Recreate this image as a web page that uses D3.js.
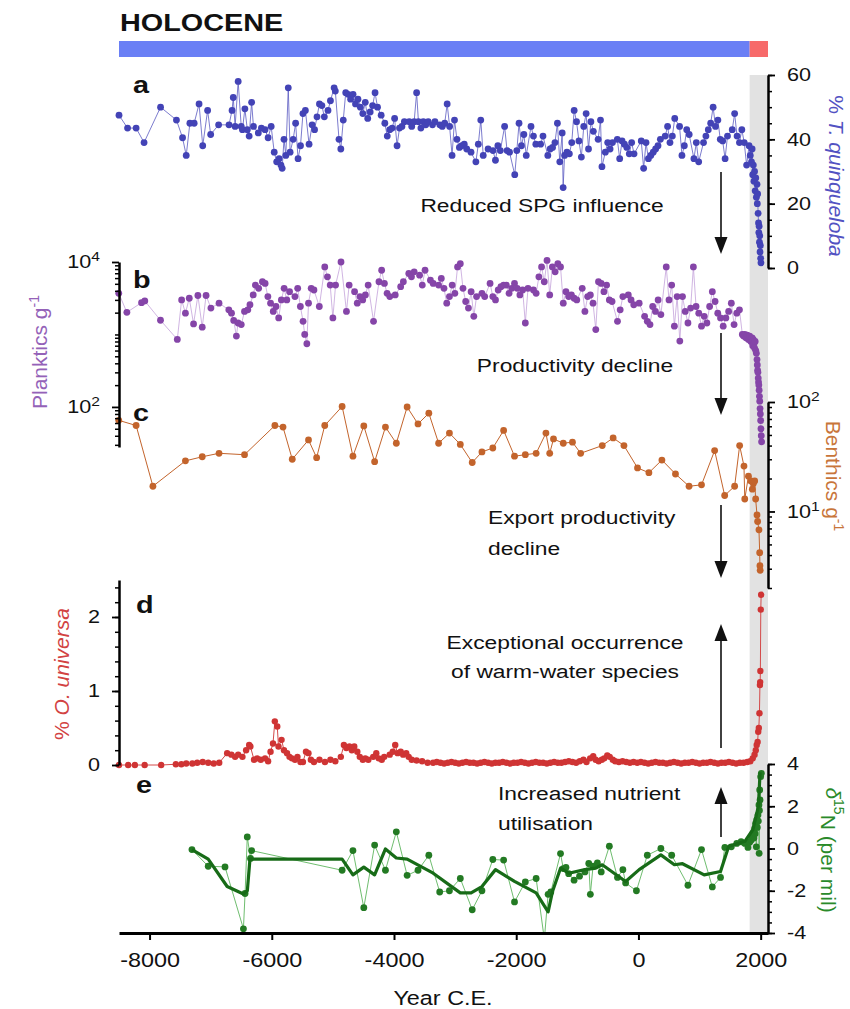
<!DOCTYPE html>
<html>
<head>
<meta charset="utf-8">
<script src="https://cdn.jsdelivr.net/npm/d3@7"></script>
<style>
  body { margin: 0; background: #fff; }
  svg text { font-family: "Liberation Sans", Arial, Helvetica, sans-serif; }
</style>
</head>
<body>
<div id="chart"></div>
<script>
"use strict";

// ---- data (year C.E., value) ----
const xTicks = [-8000, -6000, -4000, -2000, 0, 2000];

const tQuinqueloba = [[-8500,47.5],[-8360,43.5],[-8220,43.5],[-8090,39],[-7820,50],[-7560,46],[-7460,40.5],[-7400,35],[-7340,45],[-7270,45],[-7190,51],[-7130,38],[-7050,49],[-7000,41.5],[-6870,44.5],[-6700,44.5],[-6650,49],[-6630,53],[-6600,44],[-6550,58],[-6500,44],[-6480,43],[-6440,49.5],[-6400,43],[-6370,41],[-6330,51.5],[-6300,44],[-6220,42],[-6170,43.5],[-6110,43],[-6060,40.5],[-6010,44],[-5960,36],[-5920,33],[-5880,34],[-5850,32],[-5830,31],[-5800,40],[-5770,35],[-5730,56],[-5700,36],[-5650,40],[-5610,45],[-5570,34],[-5530,38],[-5490,48],[-5450,49],[-5390,38.5],[-5340,44.5],[-5300,43],[-5260,47],[-5220,51],[-5180,50.5],[-5140,47],[-5080,49],[-5040,52],[-4980,56],[-4960,55],[-4900,40],[-4870,37],[-4830,46],[-4790,54.5],[-4750,54],[-4710,52.5],[-4670,54],[-4630,51],[-4590,52.5],[-4550,50],[-4510,48],[-4470,51.5],[-4430,46.5],[-4390,48.5],[-4350,50.5],[-4310,54.5],[-4270,50],[-4210,47.5],[-4150,45],[-4110,41],[-4070,43],[-4030,43.5],[-3990,46.5],[-3950,38],[-3910,43.5],[-3870,44],[-3830,45.5],[-3750,45.5],[-3710,44],[-3670,45.5],[-3630,54.5],[-3600,45.5],[-3560,43.5],[-3520,45.5],[-3480,44.5],[-3440,45.5],[-3370,44.5],[-3330,45.5],[-3250,44.5],[-3210,44],[-3170,45],[-3130,51],[-3090,44],[-3050,35],[-3010,46],[-2970,40],[-2930,37.5],[-2890,38],[-2850,38.5],[-2810,37],[-2740,36],[-2660,33],[-2620,38.5],[-2580,46],[-2540,35],[-2460,37],[-2380,36.5],[-2340,33.5],[-2300,38],[-2260,36.5],[-2190,44],[-2150,36.5],[-2110,36],[-2024,29],[-1990,36.5],[-1954,45],[-1914,38],[-1875,41.5],[-1836,35],[-1758,44],[-1718,41],[-1679,38.5],[-1601,38.5],[-1562,41],[-1483,35],[-1444,37],[-1405,37.5],[-1366,39],[-1326,45],[-1287,33],[-1248,42],[-1232,25],[-1209,35],[-1170,36],[-1130,35.5],[-1091,39],[-1052,49],[-1013,45.5],[-974,39.5],[-934,34.5],[-895,44],[-856,48],[-817,37],[-778,45.5],[-738,42.5],[-660,40],[-621,46],[-597,31.5],[-542,36],[-503,39],[-464,37],[-425,39],[-346,40],[-307,34],[-268,39.5],[-229,38.5],[-190,37.5],[-150,35.5],[-111,39],[-72,35.5],[46,39.5],[85,31],[124,39],[163,34],[202,35],[242,36],[281,37],[320,38],[359,40],[438,41],[477,44],[516,39],[555,41],[594,46.5],[673,44],[712,35],[751,38],[790,43],[830,41.5],[908,34],[947,39],[986,33],[1065,39],[1104,41],[1143,43],[1182,45],[1222,50],[1261,44],[1300,46],[1339,40],[1378,39.5],[1418,34],[1457,41],[1535,43],[1574,48],[1614,41],[1653,39],[1692,43],[1731,39],[1770,32],[1810,38],[1830,35],[1850,33],[1860,37],[1870,29],[1880,32],[1890,27],[1900,30],[1910,24],[1920,28],[1930,22],[1940,26],[1945,20],[1950,23],[1958,17],[1965,14],[1970,11],[1975,13],[1980,8],[1985,10],[1990,5],[1995,7],[2000,3],[2005,1.6]];

const planktics = [[-8504,3700],[-8371,2020],[-8131,2750],[-8078,2900],[-7821,1570],[-7546,855],[-7475,3000],[-7413,1970],[-7350,3160],[-7280,1400],[-7209,3450],[-7138,1260],[-7075,3450],[-6996,2310],[-6863,2700],[-6703,2190],[-6659,1970],[-6623,1560],[-6579,950],[-6552,1440],[-6499,1370],[-6446,2080],[-6392,2190],[-6357,2570],[-6304,3510],[-6268,4810],[-6215,4330],[-6153,5340],[-6109,5070],[-6064,3330],[-6020,2700],[-5976,2080],[-5931,2430],[-5887,1690],[-5843,3000],[-5798,4330],[-5754,3000],[-5709,3900],[-5621,3330],[-5576,4330],[-5532,2430],[-5488,1520],[-5461,1000],[-5426,745],[-5399,2700],[-5355,4330],[-5310,4110],[-5222,2430],[-5133,8550],[-5089,6240],[-5044,4810],[-5000,1690],[-4956,4810],[-4867,10000],[-4778,2080],[-4734,4810],[-4645,3900],[-4601,2700],[-4557,3330],[-4512,3000],[-4468,3510],[-4423,4810],[-4335,1520],[-4246,5340],[-4202,7700],[-4157,5070],[-4113,3700],[-4069,3330],[-3980,3510],[-3891,4560],[-3847,5340],[-3758,6940],[-3714,6240],[-3670,7310],[-3581,6580],[-3537,4810],[-3492,7700],[-3404,5620],[-3359,5070],[-3270,4810],[-3226,5930],[-3182,4330],[-3137,2700],[-3093,3330],[-3048,4810],[-3004,3700],[-2960,8550],[-2915,9490],[-2871,4330],[-2827,2850],[-2782,2310],[-2738,3900],[-2694,1780],[-2649,3330],[-2561,3700],[-2516,3330],[-2428,5070],[-2383,3330],[-2339,3000],[-2295,4110],[-2250,4560],[-2206,4810],[-2161,4810],[-2117,3700],[-2073,4330],[-2028,5070],[-1984,4330],[-1940,3510],[-1895,4110],[-1851,1440],[-1807,4330],[-1718,4110],[-1674,3700],[-1629,6240],[-1585,8550],[-1541,5340],[-1496,10500],[-1452,3510],[-1408,8550],[-1363,7310],[-1319,9490],[-1275,8550],[-1230,2700],[-1186,3900],[-1142,3330],[-1097,3510],[-1053,3160],[-1009,3000],[-920,4330],[-876,2080],[-831,3330],[-787,3510],[-743,2700],[-698,1170],[-654,5340],[-609,5070],[-565,3900],[-521,4810],[-476,3000],[-432,2850],[-343,1520],[-299,2190],[-255,3330],[-166,3510],[-121,3000],[-77,2570],[12,2700],[101,1780],[145,1520],[189,1370],[233,2430],[278,2080],[322,3000],[367,1880],[455,8550],[500,3000],[544,4810],[588,1300],[633,3330],[677,810],[721,3330],[766,2080],[810,1440],[854,2310],[899,8550],[943,2430],[987,1970],[1032,1300],[1076,1780],[1120,1440],[1165,2430],[1209,3900],[1254,2850],[1298,1970],[1343,1690],[1387,1300],[1431,1690],[1476,2080],[1520,2700],[1565,1370],[1609,1970],[1653,2190],[1700,1000],[1720,950],[1740,1000],[1760,900],[1780,980],[1800,850],[1820,950],[1840,800],[1860,900],[1870,700],[1880,850],[1890,750],[1900,650],[1910,800],[1920,600],[1930,550],[1940,450],[1945,380],[1950,320],[1955,300],[1960,250],[1965,220],[1970,200],[1975,170],[1980,140],[1985,120],[1990,95],[1995,80],[2000,65],[2005,50],[2010,40],[2015,33]];

const benthics = [[-8504,68],[-8220,61],[-7945,17],[-7413,29],[-7138,31.6],[-6863,34],[-6446,33],[-5949,61],[-5816,59],[-5665,30],[-5399,45],[-5266,31],[-5133,61],[-4849,91],[-4672,32],[-4494,60.5],[-4317,28.5],[-4140,59],[-3962,42],[-3785,90],[-3607,63],[-3430,79],[-3270,42],[-3093,52],[-2915,41],[-2720,28],[-2561,35],[-2383,38],[-2206,55],[-2028,32],[-1851,33],[-1674,34],[-1514,52],[-1452,34],[-1390,46],[-1230,42],[-1080,43],[-946,34],[-592,40],[-414,47],[-237,40],[-15,25],[171,22.6],[384,29.5],[606,22],[828,17],[1032,17.5],[1247,36],[1411,14],[1574,17],[1656,40],[1727,26],[1740,13],[1800,21],[1840,19],[1864,16],[1880,18],[1902,19],[1918,13],[1940,9.3],[1950,8.1],[1972,6.8],[1984,4.2],[1988,3.2],[1992,2.9]];

const oUniversa = [[-8500,0],[-8350,0],[-8240,0],[-8080,0],[-7810,0],[-7570,0.01],[-7480,0.01],[-7400,0.02],[-7300,0.02],[-7220,0.03],[-7130,0.04],[-7040,0.03],[-6950,0.02],[-6860,0.03],[-6730,0.16],[-6660,0.14],[-6600,0.11],[-6550,0.14],[-6480,0.11],[-6420,0.2],[-6370,0.27],[-6350,0.25],[-6290,0.07],[-6240,0.09],[-6180,0.07],[-6110,0.09],[-6060,0.05],[-6020,0.18],[-5980,0.29],[-5950,0.59],[-5910,0.52],[-5890,0.25],[-5840,0.34],[-5800,0.2],[-5750,0.16],[-5710,0.11],[-5670,0.09],[-5620,0.07],[-5580,0.11],[-5530,0.04],[-5490,0.04],[-5440,0.18],[-5400,0.16],[-5360,0.07],[-5310,0.04],[-5220,0.07],[-5130,0.04],[-5040,0.07],[-4960,0.05],[-4870,0.11],[-4820,0.27],[-4780,0.23],[-4730,0.25],[-4690,0.2],[-4650,0.25],[-4600,0.18],[-4560,0.11],[-4510,0.07],[-4470,0.09],[-4420,0.07],[-4340,0.11],[-4290,0.16],[-4250,0.09],[-4200,0.07],[-4160,0.11],[-4070,0.14],[-4020,0.18],[-3980,0.27],[-3940,0.16],[-3890,0.18],[-3850,0.14],[-3800,0.16],[-3760,0.11],[-3710,0.07],[-3630,0.06],[-3540,0.05],[-3450,0.03],[-3360,0.03],[-3300,0.04],[-3240,0.03],[-3180,0.02],[-3120,0.03],[-3060,0.04],[-3000,0.03],[-2940,0.02],[-2880,0.03],[-2820,0.04],[-2760,0.03],[-2700,0.03],[-2640,0.02],[-2580,0.03],[-2520,0.04],[-2460,0.03],[-2400,0.02],[-2340,0.03],[-2280,0.03],[-2220,0.04],[-2160,0.03],[-2100,0.02],[-2040,0.03],[-1980,0.03],[-1920,0.04],[-1860,0.03],[-1800,0.02],[-1740,0.03],[-1680,0.04],[-1620,0.03],[-1560,0.03],[-1500,0.02],[-1440,0.03],[-1380,0.04],[-1320,0.03],[-1260,0.03],[-1200,0.04],[-1140,0.05],[-1080,0.04],[-1020,0.03],[-960,0.05],[-900,0.07],[-850,0.04],[-790,0.09],[-740,0.12],[-700,0.07],[-650,0.05],[-600,0.07],[-560,0.09],[-510,0.13],[-470,0.11],[-420,0.07],[-380,0.05],[-320,0.04],[-260,0.05],[-200,0.04],[-140,0.03],[-80,0.04],[-20,0.03],[40,0.04],[100,0.03],[160,0.02],[220,0.03],[280,0.04],[340,0.03],[400,0.03],[460,0.02],[520,0.03],[580,0.04],[640,0.03],[700,0.02],[760,0.03],[820,0.03],[880,0.04],[940,0.03],[1000,0.02],[1060,0.03],[1120,0.03],[1180,0.04],[1240,0.03],[1300,0.02],[1360,0.03],[1420,0.03],[1480,0.04],[1540,0.03],[1600,0.02],[1660,0.03],[1720,0.03],[1780,0.04],[1830,0.05],[1870,0.09],[1900,0.14],[1920,0.2],[1935,0.27],[1950,0.31],[1960,0.45],[1970,0.5],[1980,0.7],[1988,1.08],[1992,1.12],[1995,1.27],[2002,2.1],[2008,2.3]];

const d15N = [[-7306,-0.05],[-7040,-0.84],[-6765,-0.87],[-6464,-3.8],[-6437,-2.13],[-6401,0.55],[-6348,-0.47],[-6330,-0.1],[-4849,-1.03],[-4672,-0.1],[-4494,-2.8],[-4317,0.16],[-4140,-1.03],[-3962,0.79],[-3785,-1.27],[-3607,-1.03],[-3430,-0.32],[-3252,-2.06],[-3093,-2.0],[-2915,-1.42],[-2720,-2.9],[-2561,-2.0],[-2383,-0.52],[-2206,-0.55],[-2028,-2.53],[-1851,-1.58],[-1674,-1.42],[-1540,-4.3],[-1478,-2.17],[-1434,-2.06],[-1275,-0.24],[-1230,-0.95],[-1186,-0.9],[-1142,-1.19],[-1053,-1.5],[-964,-1.31],[-876,-1.11],[-813,-0.71],[-787,-2.17],[-743,-0.84],[-672,-0.68],[-609,-1.11],[-476,0.11],[-343,-1.37],[-255,-1.0],[-210,-1.63],[-33,-2.0],[145,-0.32],[367,0.0],[544,-0.32],[810,-1.74],[1032,-0.05],[1209,-1.82],[1343,-1.37],[1414,0.05],[1520,0.08],[1609,0.24],[1680,0.32],[1741,0.24],[1792,0.05],[1820,0.3],[1847,0.4],[1860,0.6],[1874,0.72],[1890,0.5],[1902,0.95],[1910,0.7],[1918,1.19],[1929,0.08],[1935,1.35],[1945,1.0],[1956,1.58],[1962,1.3],[1972,2.06],[1975,-0.23],[1980,1.8],[1984,2.77],[1990,2.3],[2000,3.4],[2011,3.56]];

const d15NMean = [[-7306,-0.05],[-7040,-0.5],[-6730,-1.8],[-6464,-2.15],[-6400,-2.0],[-6357,-0.5],[-4849,-0.5],[-4672,-1.25],[-4494,-0.88],[-4317,-1.25],[-4140,-0.02],[-3962,-0.45],[-3785,-0.5],[-3359,-1.17],[-2915,-2.1],[-2738,-2.1],[-2561,-1.8],[-2339,-1.0],[-2028,-1.56],[-1674,-2.1],[-1478,-3.0],[-1408,-2.05],[-1275,-0.93],[-1142,-1.17],[-876,-1.0],[-698,-0.93],[-592,-0.77],[-210,-1.56],[12,-1.0],[367,-0.3],[588,-0.77],[721,-0.72],[1076,-1.25],[1343,-1.09],[1476,0.1],[1741,0.34],[1874,0.9],[1963,2.0],[1990,3.6]];

const holocene = [-8500, 1820];   // blue bar
const anthropocene = [1820, 2120]; // red bar and grey band

// ---- drawing ----
const W = 850, H = 1009;
const svg = d3.select("#chart").append("svg")
    .attr("width", W)
    .attr("height", H);

const x = d3.scaleLinear().domain([-8500, 2120]).range([119, 768]);
const ya = d3.scaleLinear().domain([0, 60]).range([268, 75]);
const yb = d3.scaleLog().domain([28, 10000]).range([447, 262]);
const yc = d3.scaleLog().domain([2, 100]).range([588, 402]);
const yd = d3.scaleLinear().domain([0, 2.5]).range([765, 580]);
const ye = d3.scaleLinear().domain([-4, 4]).range([933, 764]);

const SX = 1.2; // figure text is stretched wide
const plain = d => String(d); // "-8000", not "−8,000"

function txt(parent, tx, ty, str, size, anchor, weight) {
    return parent.append("text")
        .attr("transform", `translate(${tx},${ty}) scale(${SX},1)`)
        .attr("font-size", size)
        .attr("text-anchor", anchor || "start")
        .attr("font-weight", weight || "normal")
        .attr("fill", "#111")
        .text(str);
}

// grey band for industrial era
svg.append("rect")
    .attr("x", x(anthropocene[0]))
    .attr("y", 75)
    .attr("width", x(anthropocene[1]) - x(anthropocene[0]))
    .attr("height", 933 - 75)
    .attr("fill", "#e2e2e2");

// header
txt(svg, 120, 31, "HOLOCENE", 24, "start", "bold");
svg.append("rect")
    .attr("x", x(holocene[0])).attr("y", 41)
    .attr("width", x(holocene[1]) - x(holocene[0])).attr("height", 16)
    .attr("fill", "#6a7ff5");
svg.append("rect")
    .attr("x", x(anthropocene[0])).attr("y", 41)
    .attr("width", x(anthropocene[1]) - x(anthropocene[0])).attr("height", 16)
    .attr("fill", "#f76a6a");

// series helper
function series(data, y, dotColor, lineColor, lineWidth, r, clip) {
    let g = svg.append("g");
    if (clip) g.attr("clip-path", clip);
    g.append("path")
        .datum(data)
        .attr("fill", "none")
        .attr("stroke", lineColor)
        .attr("stroke-width", lineWidth)
        .attr("d", d3.line().x(d => x(d[0])).y(d => y(d[1])));
    g.selectAll("circle")
        .data(data)
        .join("circle")
        .attr("cx", d => x(d[0]))
        .attr("cy", d => y(d[1]))
        .attr("r", r)
        .attr("fill", dotColor);
    return g;
}

// clip for panel e
svg.append("clipPath").attr("id", "clipE")
    .append("rect").attr("x", 100).attr("y", 700).attr("width", 700).attr("height", 233);

series(oUniversa, yd, "#cf3434", "#d44a4a", 1, 3.2);
series(benthics, yc, "#c3642c", "#c3642c", 1, 3.4);
series(planktics, yb, "#8545a8", "#c4a2da", 0.8, 3.4);
series(tQuinqueloba, ya, "#4343b6", "#5a5ac2", 0.8, 3.4);
series(d15N, ye, "#237a23", "#5fb65f", 0.9, 3.4, "url(#clipE)");
svg.append("path")
    .datum(d15NMean)
    .attr("fill", "none")
    .attr("stroke", "#176b17")
    .attr("stroke-width", 3.2)
    .attr("stroke-linejoin", "round")
    .attr("d", d3.line().x(d => x(d[0])).y(d => ye(d[1])));

// axes
function styleAxis(g, side) {
    g.select(".domain").attr("stroke", "#000").attr("stroke-width", 2.5);
    g.selectAll(".tick line").attr("stroke", "#000").attr("stroke-width", 1.8);
    g.selectAll(".tick text")
        .attr("font-size", 18)
        .attr("fill", "#111")
        .attr("x", side === "right" ? 19 / SX : -19 / SX)
        .attr("transform", `scale(${SX},1)`);
}
function minorAxis(axisFn, scale, values, tx) {
    svg.append("g")
        .attr("transform", `translate(${tx},0)`)
        .call(axisFn(scale).tickValues(values).tickSize(4).tickFormat(""))
        .call(g => g.select(".domain").remove())
        .call(g => g.selectAll(".tick line").attr("stroke", "#000").attr("stroke-width", 1.5));
}

const minorA = d3.range(0, 61, 5);
const minorD = d3.range(0, 2.5, 0.2);
const minorE = d3.range(-4, 4.01, 0.5);
const minorB = [30, 40, 50, 60, 70, 80, 90, 200, 300, 400, 500, 600, 700, 800, 900, 1000, 2000, 3000, 4000, 5000, 6000, 7000, 8000, 9000];
const minorC = [2, 3, 4, 5, 6, 7, 8, 9, 20, 30, 40, 50, 60, 70, 80, 90];

// a (right)
minorAxis(d3.axisRight, ya, minorA, 768);
svg.append("g").attr("transform", "translate(768,0)")
    .call(d3.axisRight(ya).tickValues([0, 20, 40, 60]).tickSize(7).tickSizeOuter(0).tickFormat(plain))
    .call(g => styleAxis(g, "right"));

// b (left, log)
minorAxis(d3.axisLeft, yb, minorB, 119);
svg.append("g").attr("transform", "translate(119,0)")
    .call(d3.axisLeft(yb).tickValues([100, 10000]).tickSize(7).tickSizeOuter(0).tickFormat(() => "10"))
    .call(g => styleAxis(g, "left"))
    .call(g => g.selectAll(".tick text").append("tspan")
        .attr("dy", "-0.55em").attr("font-size", 13)
        .text(d => Math.round(Math.log10(d))));

// c (right, log)
minorAxis(d3.axisRight, yc, minorC, 768);
svg.append("g").attr("transform", "translate(768,0)")
    .call(d3.axisRight(yc).tickValues([10, 100]).tickSize(7).tickSizeOuter(0).tickFormat(() => "10"))
    .call(g => styleAxis(g, "right"))
    .call(g => g.selectAll(".tick text").append("tspan")
        .attr("dy", "-0.55em").attr("font-size", 13)
        .text(d => Math.round(Math.log10(d))));

// d (left)
minorAxis(d3.axisLeft, yd, minorD, 119);
svg.append("g").attr("transform", "translate(119,0)")
    .call(d3.axisLeft(yd).tickValues([0, 1, 2]).tickSize(7).tickSizeOuter(0).tickFormat(plain))
    .call(g => styleAxis(g, "left"));

// e (right)
minorAxis(d3.axisRight, ye, minorE, 768);
svg.append("g").attr("transform", "translate(768,0)")
    .call(d3.axisRight(ye).tickValues([-4, -2, 0, 2, 4]).tickSize(7).tickSizeOuter(0).tickFormat(plain))
    .call(g => styleAxis(g, "right"));

// x axis
const xg = svg.append("g").attr("transform", "translate(0,933)")
    .call(d3.axisBottom(x).tickValues(xTicks).tickSize(7).tickSizeOuter(0).tickPadding(13).tickFormat(plain));
xg.select(".domain").attr("stroke", "#000").attr("stroke-width", 2.8);
xg.selectAll(".tick line").attr("stroke", "#000").attr("stroke-width", 2);
xg.selectAll(".tick text").attr("font-size", 19.5).attr("fill", "#111")
    .attr("transform", `scale(${SX},1)`);
txt(svg, 443, 1005, "Year C.E.", 19.5, "middle");

// panel letters
[["a", 133, 93], ["b", 133, 288], ["c", 133, 421], ["d", 136, 613], ["e", 136, 793]].forEach(l => {
    txt(svg, l[1], l[2], l[0], 24, "start", "bold");
});

// axis titles (rotated)
function vtitle(tx, ty, rot, color) {
    return svg.append("text")
        .attr("transform", `translate(${tx},${ty}) rotate(${rot})`)
        .attr("text-anchor", "middle")
        .attr("dy", "0.35em")
        .attr("font-size", 21)
        .attr("fill", color);
}
let t;
t = vtitle(836, 176, 90, "#5252c2");
t.append("tspan").text("% ");
t.append("tspan").attr("font-style", "italic").text("T. quinqueloba");

t = vtitle(40, 352, -90, "#9462b8");
t.append("tspan").text("Planktics g");
t.append("tspan").attr("dy", "-0.6em").attr("font-size", 14).text("-1");

t = vtitle(833, 476, 90, "#c8753a");
t.append("tspan").text("Benthics g");
t.append("tspan").attr("dy", "-0.6em").attr("font-size", 14).text("-1");

t = vtitle(62, 674, -90, "#d24242");
t.append("tspan").text("% ");
t.append("tspan").attr("font-style", "italic").text("O. universa");

t = vtitle(833, 850, 90, "#2a8a2a");
t.append("tspan").attr("font-style", "italic").text("δ");
t.append("tspan").attr("dy", "-0.6em").attr("font-size", 14).text("15");
t.append("tspan").attr("dy", "0.6em").text("N (per mil)");

// annotations and arrows
function arrow(ax, yFrom, yTip) {
    const dir = yTip > yFrom ? 1 : -1;
    svg.append("line")
        .attr("x1", ax).attr("x2", ax)
        .attr("y1", yFrom).attr("y2", yTip - dir * 12)
        .attr("stroke", "#111").attr("stroke-width", 1.6);
    svg.append("path")
        .attr("d", `M${ax - 6.5},${yTip - dir * 17}L${ax + 6.5},${yTip - dir * 17}L${ax},${yTip}Z`)
        .attr("fill", "#111");
}
txt(svg, 542, 212, "Reduced SPG influence", 19, "middle");
arrow(721, 172, 254);
txt(svg, 575, 372, "Productivity decline", 19, "middle");
arrow(721, 333, 415);
txt(svg, 488, 524, "Export productivity", 19, "start");
txt(svg, 488, 555, "decline", 19, "start");
arrow(721, 505, 578);
txt(svg, 565, 649, "Exceptional occurrence", 19, "middle");
txt(svg, 565, 678, "of warm-water species", 19, "middle");
arrow(721, 748, 624);
txt(svg, 498, 800, "Increased nutrient", 19, "start");
txt(svg, 498, 830, "utilisation", 19, "start");
arrow(721, 837, 787);
</script>
</body>
</html>
